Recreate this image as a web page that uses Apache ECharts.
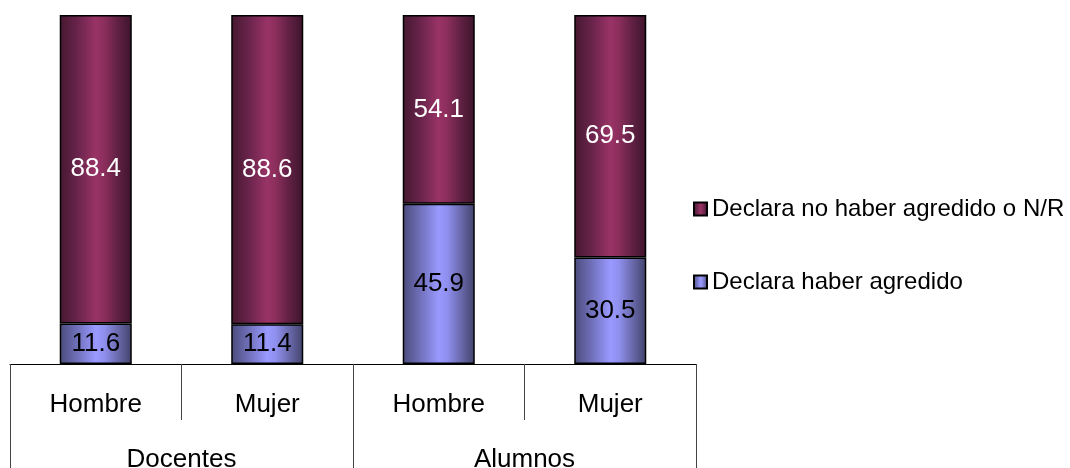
<!DOCTYPE html>
<html>
<head>
<meta charset="utf-8">
<script src="https://cdn.jsdelivr.net/npm/echarts@6/dist/echarts.min.js"></script>
<style>
html,body{margin:0;padding:0;background:#fff;}
#c{width:1070px;height:468px;}
</style>
</head>
<body>
<div id="c"></div>
<script>
var categories = ['Hombre', 'Mujer', 'Hombre', 'Mujer'];
var groups = ['Docentes', 'Alumnos'];
var seriesNames = ['Declara no haber agredido o N/R', 'Declara haber agredido'];
var agredido = [11.6, 11.4, 45.9, 30.5];
var noAgredido = [88.4, 88.6, 54.1, 69.5];

var FONT = '"Liberation Sans", Arial, sans-serif';

function grad(stops) {
  return new echarts.graphic.LinearGradient(0, 0, 1, 0, stops);
}
var purple = grad([
  {offset: 0, color: '#45182f'},
  {offset: 0.25, color: '#6a244c'},
  {offset: 0.5, color: '#993366'},
  {offset: 0.62, color: '#8b2e5c'},
  {offset: 0.8, color: '#612144'},
  {offset: 1, color: '#3d142b'}
]);
var blue = grad([
  {offset: 0, color: '#4b4b7c'},
  {offset: 0.25, color: '#7171bc'},
  {offset: 0.5, color: '#9999ff'},
  {offset: 0.62, color: '#8f8fee'},
  {offset: 0.8, color: '#6b6baf'},
  {offset: 1, color: '#42426b'}
]);

var chart = echarts.init(document.getElementById('c'), null, {renderer: 'canvas'});
chart.setOption({
  animation: false,
  backgroundColor: '#ffffff',
  grid: {left: 10, right: 374, top: 15, bottom: 104, containLabel: false, outerBoundsMode: 'none'},
  legend: {
    orient: 'vertical',
    left: 688,
    top: 192,
    itemGap: 49,
    itemWidth: 13,
    itemHeight: 13,
    icon: 'rect',
    data: [seriesNames[0], seriesNames[1]],
    textStyle: {fontFamily: FONT, fontSize: 24, color: '#000'}
  },
  xAxis: [
    {
      type: 'category',
      data: categories,
      position: 'bottom',
      axisLine: {show: true, lineStyle: {color: '#000', width: 1}},
      axisTick: {show: true, length: 56, lineStyle: {color: '#444', width: 1}},
      axisLabel: {fontFamily: FONT, fontSize: 26, color: '#000', margin: 28}
    },
    {
      type: 'category',
      data: groups,
      position: 'bottom',
      axisLine: {show: false},
      axisTick: {show: true, length: 110, lineStyle: {color: '#444', width: 1}},
      axisLabel: {fontFamily: FONT, fontSize: 26, color: '#000', margin: 83}
    }
  ],
  yAxis: {type: 'value', min: 0, max: 100, show: false, splitLine: {show: false}},
  series: [
    {
      name: seriesNames[1],
      type: 'bar',
      stack: 'total',
      xAxisIndex: 0,
      barWidth: '42%',
      data: agredido,
      itemStyle: {color: blue, borderColor: '#000', borderWidth: 1.5},
      label: {show: true, position: 'inside', fontFamily: FONT, fontSize: 26, color: '#000',
        formatter: function (p) { return p.value.toFixed(1); }}
    },
    {
      name: seriesNames[0],
      type: 'bar',
      stack: 'total',
      xAxisIndex: 0,
      barWidth: '42%',
      data: noAgredido,
      itemStyle: {color: purple, borderColor: '#000', borderWidth: 1.5},
      label: {show: true, position: 'inside', fontFamily: FONT, fontSize: 26, color: '#fff',
        formatter: function (p) { return p.value.toFixed(1); }}
    }
  ]
});
</script>
</body>
</html>
